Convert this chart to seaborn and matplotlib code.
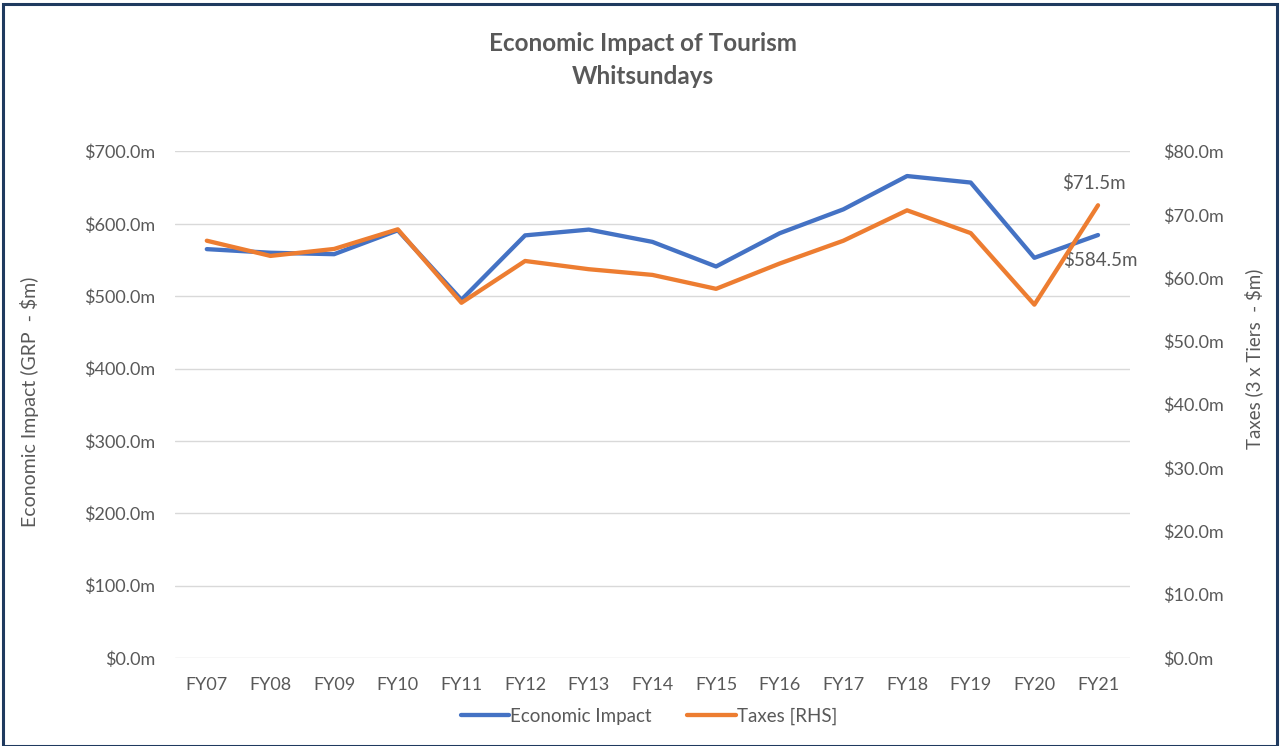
import matplotlib
matplotlib.use("Agg")
import matplotlib.pyplot as plt
from matplotlib.patches import Rectangle
from matplotlib.lines import Line2D
import seaborn as sns
import pandas as pd

years = ["FY07", "FY08", "FY09", "FY10", "FY11", "FY12", "FY13", "FY14",
         "FY15", "FY16", "FY17", "FY18", "FY19", "FY20", "FY21"]
economic_impact = [565, 560, 558, 591, 495, 584, 592, 575,
                   541, 587, 620, 666, 657, 553, 584.5]
taxes = [65.9, 63.5, 64.6, 67.7, 56.1, 62.7, 61.4, 60.5,
         58.3, 62.3, 65.9, 70.7, 67.1, 55.8, 71.5]
left_ticks = [0, 100, 200, 300, 400, 500, 600, 700]
right_ticks = [0, 10, 20, 30, 40, 50, 60, 70, 80]

BLUE = "#4472C4"
ORANGE = "#ED7D31"
GREY = "#595959"
GRID = "#D9D9D9"
FS = 13.5

sns.set_theme(style="white")
plt.rcParams["font.family"] = ["Lato", "DejaVu Sans"]

df = pd.DataFrame({"year": years, "econ": economic_impact, "tax": taxes})
df["pos"] = range(len(years))

fig = plt.figure(figsize=(12.8, 7.46), dpi=100)
ax = fig.add_axes([0.1367, 0.118, 0.746, 0.679])
ax2 = ax.twinx()

sns.lineplot(data=df, x="pos", y="econ", ax=ax, color=BLUE, linewidth=3.1,
             legend=False, zorder=3)
sns.lineplot(data=df, x="pos", y="tax", ax=ax2, color=ORANGE, linewidth=3.1,
             legend=False, zorder=3)

ax.set_xlim(-0.5, len(years) - 0.5)
ax.set_ylim(0, 700)
ax2.set_ylim(0, 80)
ax.set_xticks(df["pos"])
ax.set_xticklabels(years)
ax.set_yticks(left_ticks)
ax.set_yticklabels([f"${v:.1f}m" for v in left_ticks])
ax2.set_yticks(right_ticks)
ax2.set_yticklabels([f"${v:.1f}m" for v in right_ticks])

for a in (ax, ax2):
    for s in a.spines.values():
        s.set_visible(False)
    a.tick_params(axis="both", length=0, labelsize=FS - 0.5, labelcolor=GREY)
    a.set_xlabel("")
ax.tick_params(axis="y", pad=14)
ax2.tick_params(axis="y", pad=24)
ax.tick_params(axis="x", pad=14)
ax.grid(axis="y", color=GRID, linewidth=1)
ax.grid(axis="x", visible=False)
ax2.grid(False)

ax.set_ylabel("Economic Impact (GRP  - $m)", color=GREY, fontsize=FS + 0.5)
ax.yaxis.set_label_coords(-0.1425, 0.505)
ax2.set_ylabel("Taxes (3 x Tiers  - $m)", color=GREY, fontsize=FS)
ax2.yaxis.set_label_coords(1.12, 0.59)

# end-of-series value labels
last = len(years) - 1
ax2.annotate(f"${taxes[-1]:.1f}m", (last, taxes[-1]), xytext=(-3, 16),
             textcoords="offset points", ha="center", va="center",
             fontsize=FS, color=GREY)
ax.annotate(f"${economic_impact[-1]:.1f}m", (last, economic_impact[-1]),
            xytext=(2, -18), textcoords="offset points", ha="center",
            va="center", fontsize=FS, color=GREY)

fig.text(0.502, 0.942, "Economic Impact of Tourism", ha="center", va="center",
         fontsize=17.5, fontweight="bold", color=GREY)
fig.text(0.502, 0.897, "Whitsundays", ha="center", va="center",
         fontsize=17.5, fontweight="bold", color=GREY)

handles = [Line2D([], [], color=BLUE, linewidth=3.1),
           Line2D([], [], color=ORANGE, linewidth=3.1)]
fig.legend(handles, ["Economic Impact", "Taxes [RHS]"], loc="center",
           bbox_to_anchor=(0.507, 0.04), ncol=2, frameon=False, fontsize=FS,
           handlelength=2.6, handletextpad=0.05, columnspacing=1.9,
           labelcolor=GREY)

fig.patches.append(Rectangle((0.002, 0.0), 0.996, 0.995, transform=fig.transFigure,
                             fill=False, edgecolor="#1F3A5F", linewidth=2.2))

fig.savefig("out.png", dpi=100, facecolor="white")
